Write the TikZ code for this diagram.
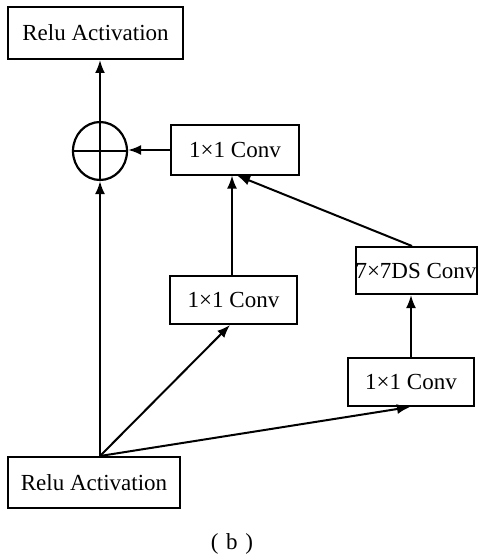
\documentclass[tikz,border=0pt]{standalone}
\usepackage{fontspec}
\setmainfont{Liberation Serif}
\usetikzlibrary{shapes.geometric,arrows.meta,calc}
\begin{document}
\begin{tikzpicture}[x=1pt,y=-1pt,
  box/.style={draw=black,line width=2pt,fill=white,inner sep=0pt,
    font=\fontsize{23}{28}\selectfont},
  arr/.style={line width=2pt,-{Latex[length=13pt,width=10pt]}},
  ln/.style={line width=2pt}]
\useasboundingbox (0,0) rectangle (478,559);
\node[box,minimum width=175pt,minimum height=52pt] (top) at (95.5,33) {Relu Activation};
\node[draw=black,line width=2.2pt,ellipse,minimum width=54pt,minimum height=58pt,inner sep=0pt] (circ) at (100,151) {};
\draw[line width=1.5pt] (circ.west) -- (circ.east);
\draw[line width=1.5pt] (circ.north) -- (circ.south);
\node[box,minimum width=128pt,minimum height=49pt] (c1) at (235,150) {1×1 Conv};
\node[box,minimum width=127pt,minimum height=48pt] (c2) at (233.5,300) {1×1 Conv};
\node[box,minimum width=121pt,minimum height=47pt] (c7) at (416,270.5) {7×7DS Conv};
\node[box,minimum width=126pt,minimum height=48pt] (c3) at (411,382) {1×1 Conv};
\node[box,minimum width=172pt,minimum height=51pt] (bot) at (94,482.5) {Relu Activation};
\node[font=\fontsize{23}{28}\selectfont] (cap) at (232,544) {(\,\,b\,\,)};
\coordinate (bo) at (bot.north -| circ);
\draw[arr] (bo) -- (circ.south);
\draw[arr] (circ.north) -- (top.south -| circ);
\draw[arr] (c1.west) -- (c1.west -| circ.east);
\draw[arr] ($(c2.north)+(-1.5,0)$) -- ($(c1.south)+(-3,0)$);
\draw[arr] ($(c7.north)+(-4,0)$) -- ($(c1.south)+(2,0)$);
\draw[arr] (c3.north) -- (c7.south -| c3.north);
\draw[arr] (bo) -- ($(c2.south)+(-3.5,0)$);
\draw[arr] (bo) -- ($(c3.south)+(-1,0)$);
\end{tikzpicture}
\end{document}
